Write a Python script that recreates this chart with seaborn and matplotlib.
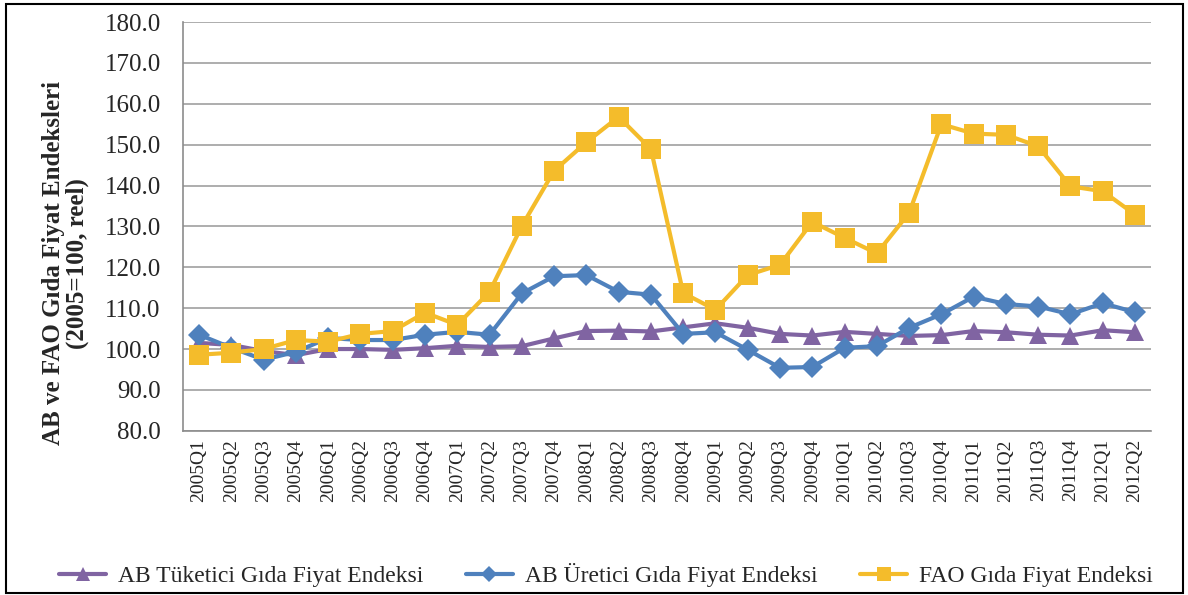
import pandas as pd
import numpy as np
import matplotlib.pyplot as plt
import seaborn as sns
from matplotlib.patches import Rectangle

# quarters on the x axis
quarters = [
    '2005Q1', '2005Q2', '2005Q3', '2005Q4', '2006Q1', '2006Q2', '2006Q3', '2006Q4',
    '2007Q1', '2007Q2', '2007Q3', '2007Q4', '2008Q1', '2008Q2', '2008Q3', '2008Q4',
    '2009Q1', '2009Q2', '2009Q3', '2009Q4', '2010Q1', '2010Q2', '2010Q3', '2010Q4',
    '2011Q1', '2011Q2', '2011Q3', '2011Q4', '2012Q1', '2012Q2'
]

# AB consumer food price index
ab_tuketici = [101.5, 101.0, 99.5, 98.5, 100.0, 100.0, 99.8, 100.2,
               100.8, 100.5, 100.7, 102.6, 104.4, 104.5, 104.3, 105.3,
               106.3, 105.2, 103.7, 103.3, 104.2, 103.7, 103.2, 103.4,
               104.4, 104.1, 103.5, 103.3, 104.6, 104.1]

# AB producer food price index
ab_uretici = [103.5, 100.3, 97.4, 99.3, 102.7, 102.2, 102.2, 103.5,
              104.2, 103.5, 113.6, 117.8, 118.1, 114.0, 113.3, 103.7,
              104.1, 99.8, 95.4, 95.6, 100.3, 100.7, 105.2, 108.5,
              112.8, 111.0, 110.4, 108.5, 111.2, 109.0]

# FAO food price index
fao = [98.6, 99.1, 100.0, 102.2, 101.8, 103.7, 104.4, 108.9,
       105.9, 114.0, 130.1, 143.6, 150.6, 156.8, 148.9, 113.7,
       109.6, 118.1, 120.6, 131.1, 127.2, 123.4, 133.3, 155.0,
       152.7, 152.4, 149.6, 139.8, 138.6, 132.9]

series_names = ['AB Tüketici Gıda Fiyat Endeksi', 'AB Üretici Gıda Fiyat Endeksi',
                'FAO Gıda Fiyat Endeksi']
colors = ['#8064A2', '#4F81BD', '#F4BC2B']
markers = ['^', 'D', 's']
msizes = [13, 11, 14]

df = pd.DataFrame({'quarter': quarters,
                   series_names[0]: ab_tuketici,
                   series_names[1]: ab_uretici,
                   series_names[2]: fao})
long = df.melt(id_vars='quarter', var_name='seri', value_name='deger')

sns.set_style('white')
plt.rcParams['font.family'] = ['Liberation Serif', 'DejaVu Serif']

fig = plt.figure(figsize=(11.88, 5.95), dpi=100)
ax = fig.add_axes([0.154, 0.276, 0.815, 0.687])

for name, col, mk, ms in zip(series_names, colors, markers, msizes):
    sub = long[long['seri'] == name]
    sns.lineplot(data=sub, x='quarter', y='deger', ax=ax, color=col,
                 marker=mk, markersize=ms, markeredgewidth=0, linewidth=3,
                 label=name, sort=False)

ax.set_ylim(80, 180)
ax.set_yticks(np.arange(80, 181, 10))
ax.set_yticklabels([f'{v:.1f}' for v in np.arange(80, 181, 10)], fontsize=18)
ax.set_xlim(-0.5, len(quarters) - 0.5)
ax.tick_params(axis='x', labelrotation=90, labelsize=14, length=0, pad=6)
ax.tick_params(axis='y', length=0, pad=16)
ax.yaxis.grid(True, color='#A0A0A0', linewidth=1.2)
ax.xaxis.grid(False)
ax.set_xlabel('')
ax.set_ylabel('AB ve FAO Gıda Fiyat Endeksleri\n(2005=100, reel)',
              fontsize=18, fontweight='bold', linespacing=1.05)
ax.yaxis.set_label_coords(-0.097, 0.41)
for side in ['top', 'right']:
    ax.spines[side].set_visible(False)
for side in ['left', 'bottom']:
    ax.spines[side].set_color('#8C8C8C')
    ax.spines[side].set_linewidth(1.2)

ax.legend(loc='lower center', bbox_to_anchor=(0.51, -0.022), bbox_transform=fig.transFigure,
          ncol=3, frameon=False, fontsize=17, handlelength=2.0, handletextpad=0.5,
          columnspacing=1.8, markerscale=0.75)

fig.patches.append(Rectangle((0.005, 0.004), 0.991, 0.99, transform=fig.transFigure,
                             fill=False, edgecolor='black', linewidth=1.5))

plt.savefig('out.png', dpi=100)
